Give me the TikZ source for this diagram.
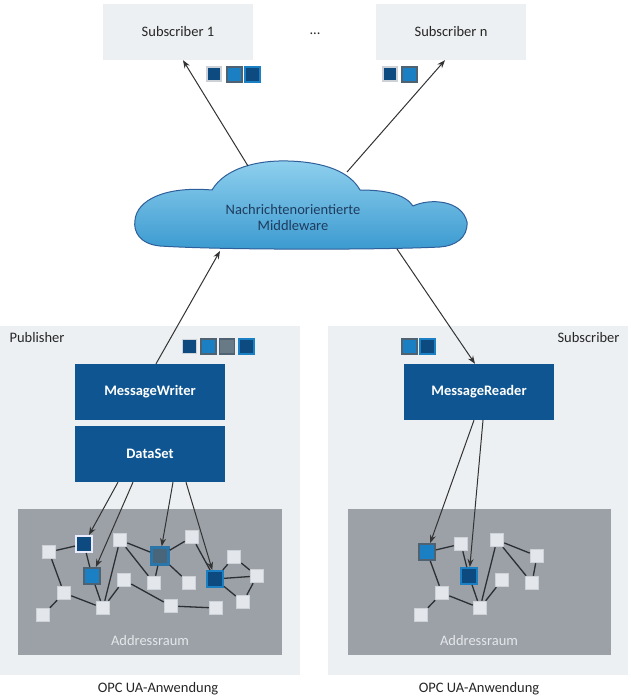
\documentclass[tikz,border=0pt]{standalone}
\usepackage{fontspec}
\setmainfont{Carlito}
\usetikzlibrary{arrows.meta,calc}
\definecolor{panel}{HTML}{EDF0F2}
\definecolor{darkbox}{HTML}{0F5591}
\definecolor{addr}{HTML}{9BA1A7}
\definecolor{navy}{HTML}{0D4A80}
\definecolor{bblue}{HTML}{1B7FC3}
\definecolor{steel}{HTML}{4E6272}
\definecolor{lnode}{HTML}{E3E6EB}
\definecolor{lborder}{HTML}{CDD2D8}
\definecolor{edgec}{HTML}{2B2F33}
\definecolor{cloudtop}{HTML}{8FD0EE}
\definecolor{cloudbot}{HTML}{3B9AD0}
\definecolor{cloudline}{HTML}{2F5F9A}
\definecolor{cloudtext}{HTML}{1F3C5E}
\definecolor{addrtext}{HTML}{E4E7EB}
\begin{document}
\begin{tikzpicture}[x=1pt,y=-1pt,
  txt/.style={font=\fontsize{14.5}{16}\selectfont, text=black!85},
  greybox/.style={rectangle, fill=panel, draw=none, minimum width=150pt, minimum height=56pt, inner sep=0pt, txt},
  bluebox/.style={rectangle, fill=darkbox, draw=none, minimum width=150pt, minimum height=56pt, inner sep=0pt, font=\fontsize{14.5}{16}\selectfont\bfseries, text=white},
  lightnode/.style={rectangle, fill=lnode, draw=lborder, line width=1.5pt, minimum size=13pt, inner sep=0pt},
  navyW/.style={rectangle, fill=navy, draw=white!92!blue, line width=2pt, minimum size=16pt, inner sep=0pt},
  blueG/.style={rectangle, fill=bblue, draw=steel, line width=2pt, minimum size=16pt, inner sep=0pt},
  navyB/.style={rectangle, fill=navy, draw=bblue, line width=2pt, minimum size=16pt, inner sep=0pt},
  steelB/.style={rectangle, fill=steel!90!bblue, draw=bblue!70!steel, line width=2.5pt, minimum size=17pt, inner sep=0pt},
  grayS/.style={rectangle, fill=steel!85!white, draw=steel, line width=1.5pt, minimum size=15pt, inner sep=0pt},
  msgNavy/.style={rectangle, fill=navy, draw=lborder, line width=1.5pt, minimum size=14pt, inner sep=0pt},
  msgBlue/.style={rectangle, fill=bblue, draw=steel, line width=2pt, minimum size=15pt, inner sep=0pt},
  msgNavyB/.style={rectangle, fill=navy, draw=bblue, line width=2pt, minimum size=15pt, inner sep=0pt},
  edge/.style={draw=edgec, line width=1.3pt},
  arr/.style={draw=black!80, line width=1pt, -{Stealth[length=8pt,width=6pt]}}
]
\useasboundingbox (0,0) rectangle (630,700);

% panels
\node[rectangle, fill=panel, minimum width=300pt, minimum height=349pt, inner sep=0pt, anchor=north west] (pub) at (0,326) {};
\node[rectangle, fill=panel, minimum width=300pt, minimum height=349pt, inner sep=0pt, anchor=north west] (subp) at (328,326) {};
\node[txt, anchor=west] (publbl) at (6,338) {Publisher};
\node[txt, anchor=east] (sublbl) at (623,338) {Subscriber};

% address spaces
\node[rectangle, fill=addr, minimum width=264pt, minimum height=146pt, inner sep=0pt, anchor=north west] (asl) at (18,509) {};
\node[rectangle, fill=addr, minimum width=263pt, minimum height=146pt, inner sep=0pt, anchor=north west] (asr) at (348,509) {};
\node[txt, text=addrtext] (asltxt) at (150,641) {Addressraum};
\node[txt, text=addrtext] (asrtxt) at (479,641) {Addressraum};

\node[txt] (opc1) at (158,689) {OPC UA-Anwendung};
\node[txt] (opc2) at (479,689) {OPC UA-Anwendung};

% subscriber boxes
\node[greybox] (sub1) at (178,32) {Subscriber 1};
\node[greybox] (subn) at (451,32) {Subscriber n};
\node[txt] (dots) at (315,34) {...};

% cloud
\shade[top color=cloudtop, bottom color=cloudbot, draw=cloudline, line width=1pt]
  (160,246) .. controls (140,244) and (133,232) .. (135,220)
  .. controls (137,200) and (165,186) .. (212,190)
  .. controls (225,168) and (258,160) .. (288,161)
  .. controls (325,162) and (350,172) .. (360,190)
  .. controls (385,190) and (405,194) .. (413,206)
  .. controls (430,198) and (462,200) .. (467,222)
  .. controls (468,238) and (455,246) .. (440,247)
  .. controls (380,250) and (220,250) .. (160,246) -- cycle;
\node[font=\fontsize{14.5}{16}\selectfont, text=cloudtext, align=center] (cloud) at (293,218) {Nachrichtenorientierte\\Middleware};
\coordinate (cl1) at (248,166);
\coordinate (cl2) at (347,172);
\coordinate (cl3) at (220,251);
\coordinate (cl4) at (397,249);

% blue boxes
\node[bluebox] (mw) at (150,392) {MessageWriter};
\node[bluebox] (ds) at (150,454) {DataSet};
\node[bluebox] (mr) at (479,392) {MessageReader};

% message squares
\node[msgNavy] (m1a) at (214,74) {};
\node[msgBlue] (m1b) at (234,75) {};
\node[msgNavyB] (m1c) at (252.5,75) {};
\node[msgNavy] (mna) at (390,74) {};
\node[msgBlue] (mnb) at (409.5,75) {};
\node[msgNavy] (mwa) at (189.5,346.5) {};
\node[msgBlue] (mwb) at (208,346.5) {};
\node[grayS] (mwc) at (227,346.5) {};
\node[msgNavyB] (mwd) at (246,346.5) {};
\node[msgBlue] (mra) at (409.5,346.5) {};
\node[msgNavyB] (mrb) at (427.5,346.5) {};

% arrows to/from cloud
\draw[arr] (cl1) -- ($(sub1.south)+(5,0)$);
\draw[arr] (cl2) -- ($(subn.south)+(-6,0)$);
\draw[arr] ($(mw.north)+(6,0)$) -- (cl3);
\draw[arr] (cl4) -- ($(mr.north)+(-4,0)$);

% left address space nodes
\node[lightnode] (L1) at (49,552) {};
\node[navyW] (L2) at (84,544) {};
\node[blueG] (L3) at (92,576) {};
\node[lightnode] (L4) at (120,540) {};
\node[lightnode] (L5) at (64,593) {};
\node[lightnode] (L6) at (43,615) {};
\node[lightnode] (L7) at (103,608) {};
\node[lightnode] (L8) at (124,580) {};
\node[steelB] (L9) at (160,556) {};
\node[lightnode] (L10) at (192,537) {};
\node[lightnode] (L11) at (154,583) {};
\node[lightnode] (L12) at (189,583) {};
\node[navyB] (L13) at (215,579) {};
\node[lightnode] (L14) at (234,557) {};
\node[lightnode] (L15) at (257,576) {};
\node[lightnode] (L16) at (243,602) {};
\node[lightnode] (L17) at (171,606) {};
\node[lightnode] (L18) at (216,608) {};

\draw[edge] (L1)--(L2) (L1)--(L5) (L5)--(L6) (L5)--(L7) (L2)--(L3) (L3)--(L7)
  (L4)--(L7) (L4)--(L9) (L4)--(L11) (L7)--(L8) (L8)--(L17) (L9)--(L10)
  (L9)--(L11) (L9)--(L12) (L10)--(L13) (L13)--(L14) (L13)--(L15) (L13)--(L16)
  (L14)--(L15) (L15)--(L16) (L17)--(L18);

\draw[arr] (ds.south -| 118,0) -- (L2);
\draw[arr] (ds.south -| 133,0) -- (L3);
\draw[arr] (ds.south -| 173,0) -- (L9);
\draw[arr] (ds.south -| 186,0) -- (L13);

% right address space nodes
\node[blueG] (R1) at (427,552) {};
\node[lightnode] (R2) at (461,544) {};
\node[navyB] (R3) at (469,576) {};
\node[lightnode] (R4) at (497,540) {};
\node[lightnode] (R5) at (537,556) {};
\node[lightnode] (R6) at (502,580) {};
\node[lightnode] (R7) at (532,583) {};
\node[lightnode] (R8) at (442,593) {};
\node[lightnode] (R9) at (421,615) {};
\node[lightnode] (R10) at (480,608) {};

\draw[edge] (R1)--(R2) (R1)--(R8) (R2)--(R3) (R3)--(R10) (R4)--(R10) (R4)--(R5)
  (R4)--(R7) (R5)--(R7) (R6)--(R10) (R8)--(R9) (R8)--(R10);

\draw[arr] (mr.south -| 474,0) -- (R1);
\draw[arr] (mr.south -| 483,0) -- (R3);
\end{tikzpicture}
\end{document}
